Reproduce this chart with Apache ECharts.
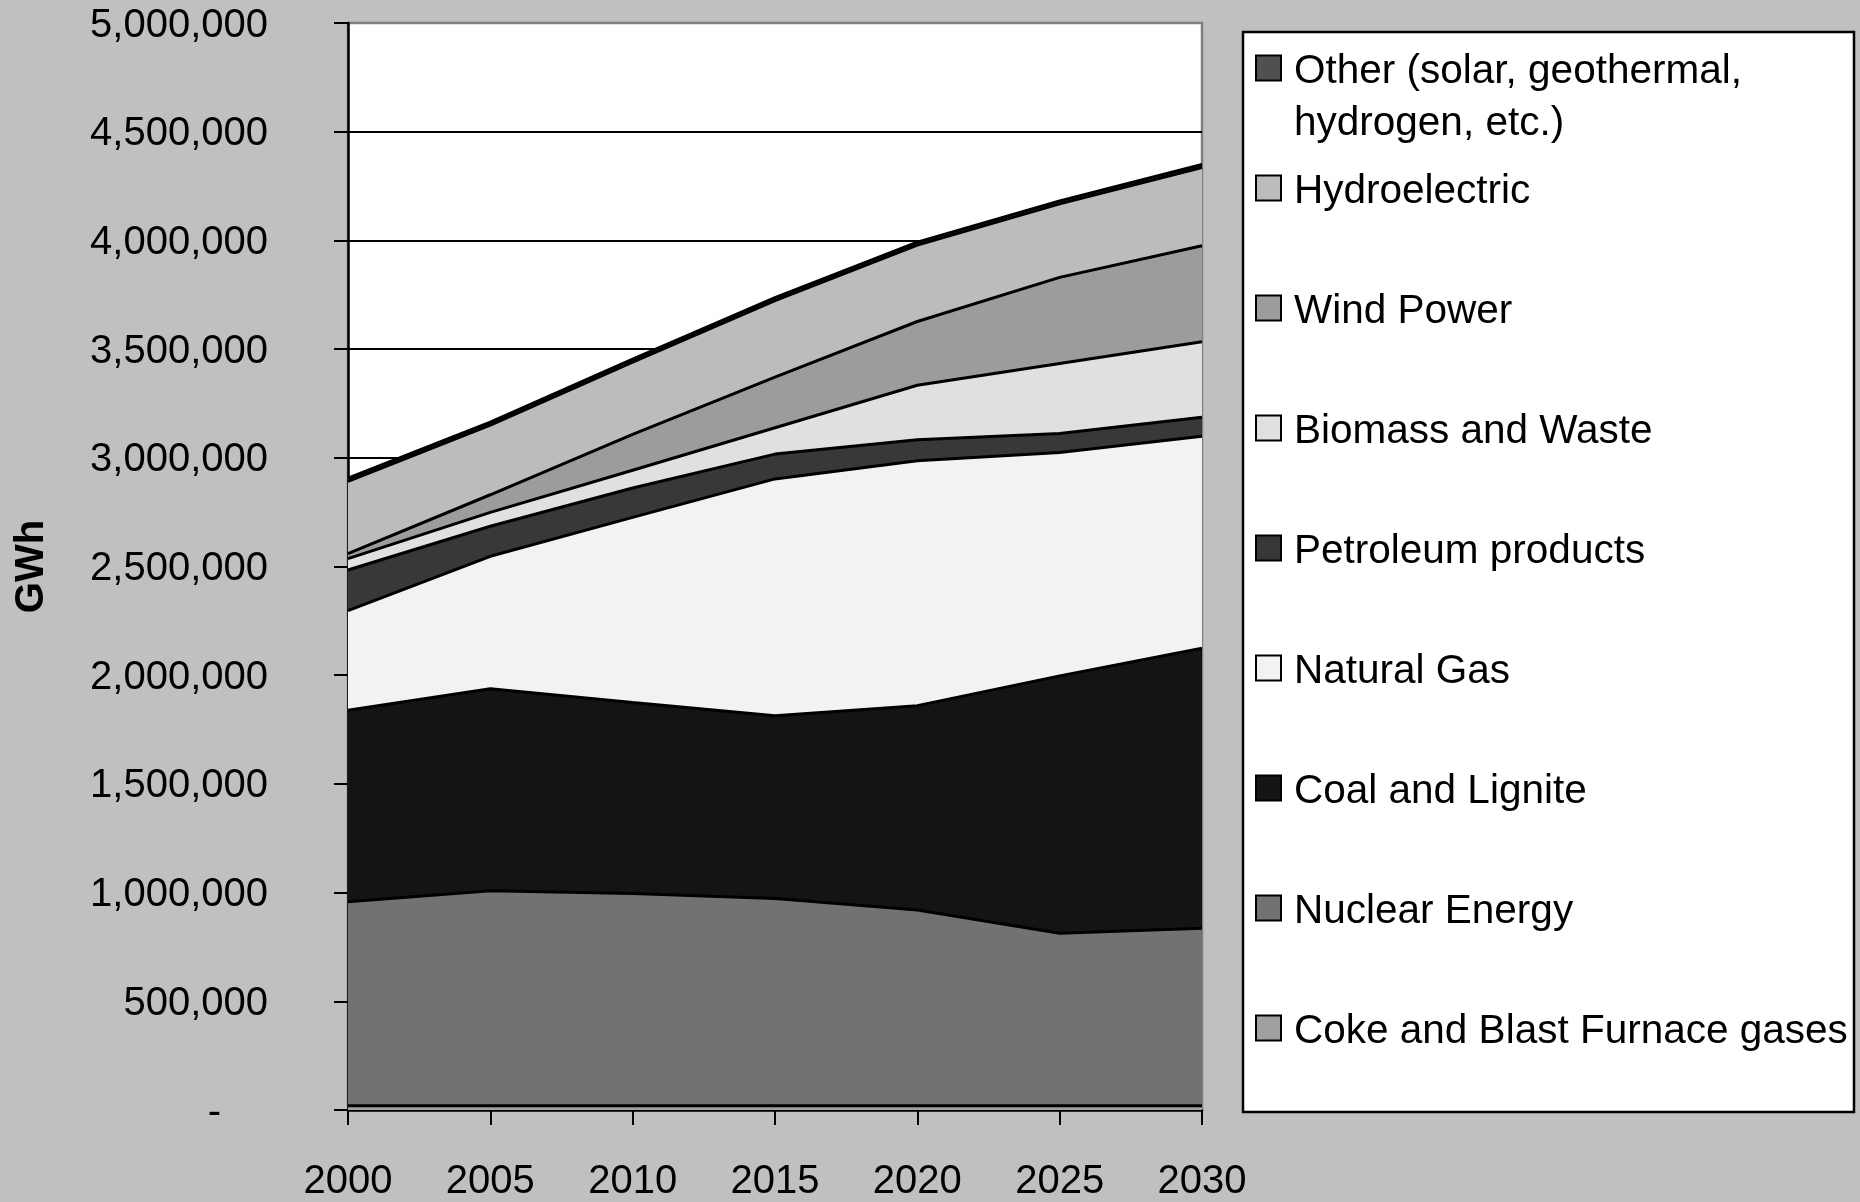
<!DOCTYPE html>
<html>
<head>
<meta charset="utf-8">
<script src="https://cdn.jsdelivr.net/npm/echarts@6/dist/echarts.min.js"></script>
<style>
  html, body { margin: 0; padding: 0; background: #c0c0c0; }
  #chart { width: 1860px; height: 1202px; }
</style>
</head>
<body>
<div id="chart"></div>
<script>
// ---- Data (GWh) ----
const years = ['2000', '2005', '2010', '2015', '2020', '2025', '2030'];

const seriesNames = [
  'Other (solar, geothermal, hydrogen, etc.)',
  'Hydroelectric',
  'Wind Power',
  'Biomass and Waste',
  'Petroleum products',
  'Natural Gas',
  'Coal and Lignite',
  'Nuclear Energy',
  'Coke and Blast Furnace gases'
];

const otherVals     = [14000, 14000, 14000, 14000, 14000, 14000, 14000];
const hydroVals     = [333000, 320000, 332000, 352000, 351000, 338000, 360000];
const windVals      = [23000, 81000, 165000, 233000, 293000, 396000, 441000];
const biomassVals   = [52000, 64000, 82000, 121000, 251000, 322000, 348000];
const petroleumVals = [187000, 138000, 135000, 114000, 97000, 88000, 87000];
const gasVals       = [458000, 609000, 852000, 1089000, 1126000, 1027000, 975000];
const coalVals      = [881000, 930000, 878000, 841000, 940000, 1184000, 1288000];
const nuclearVals   = [938000, 988000, 976000, 953000, 900000, 793000, 816000];
const cokeVals      = [20000, 20000, 20000, 20000, 20000, 20000, 20000];

const yMin = 0, yMax = 5000000, yStep = 500000;

// ---- Styling ----
const FONT = '"Liberation Sans", Arial, Helvetica, sans-serif';
const fills = ['#505050', '#bcbcbc', '#9c9c9c', '#e0e0e0', '#383838', '#f2f2f2', '#141414', '#727272', '#a0a0a0'];
const valueLists = [otherVals, hydroVals, windVals, biomassVals, petroleumVals, gasVals, coalVals, nuclearVals, cokeVals];

function fmt(v) {
  if (v === 0) return '{z|-}';
  return '{n|' + String(v).replace(/\B(?=(\d{3})+(?!\d))/g, ',') + '}';
}

const series = seriesNames.map((name, i) => ({
  name: name,
  type: 'line',
  stack: 'total',
  stackOrder: 'seriesDesc',
  data: valueLists[i],
  symbol: 'none',
  showSymbol: false,
  lineStyle: { color: '#000', width: 3 },
  itemStyle: { color: fills[i] },
  areaStyle: { color: fills[i], opacity: 1 },
  emphasis: { disabled: true },
  silent: true
}));

const L = 52;
const legendData = seriesNames.map((name, i) => {
  if (i === 0) {
    return { name: name, textStyle: { lineHeight: L, padding: [0, 0, 0, 8], backgroundColor: 'rgba(255,255,255,0)' } };
  }
  return { name: name, textStyle: { lineHeight: L, padding: [L, 0, L, 8], backgroundColor: 'rgba(255,255,255,0)' } };
});

const splitColors = [];
for (let v = yMin; v <= yMax; v += yStep) splitColors.push(v === yMax ? '#808080' : '#000');

const chart = echarts.init(document.getElementById('chart'), null, { renderer: 'canvas' });
chart.setOption({
  backgroundColor: '#c0c0c0',
  animation: false,
  textStyle: { fontFamily: FONT },
  graphic: [{
    type: 'rect',
    z: -1,
    silent: true,
    shape: { x: 1243, y: 32, width: 611, height: 1080 },
    style: { fill: '#ffffff', stroke: '#000000', lineWidth: 2.5 }
  }],
  grid: {
    left: 348, top: 23, width: 854, height: 1091,
    show: true, backgroundColor: '#ffffff', borderColor: '#808080', borderWidth: 2.5,
    containLabel: false
  },
  legend: {
    orient: 'vertical',
    left: 1255,
    top: -10,
    padding: 0,
    itemGap: -36,
    itemWidth: 25,
    itemHeight: 25,
    icon: 'rect',
    selectedMode: false,
    itemStyle: { borderColor: '#000', borderWidth: 2 },
    textStyle: {
      fontSize: 40.5, color: '#000', fontFamily: FONT,
      rich: { t: { fontSize: 40.5, color: '#000', fontFamily: FONT, padding: [7, 0, 0, 0] } }
    },
    formatter: function (name) {
      return name === seriesNames[0]
        ? '\n{t|Other (solar, geothermal,}\n{t|hydrogen, etc.)}'
        : '{t|' + name + '}';
    },
    data: legendData
  },
  xAxis: {
    type: 'category',
    data: years,
    boundaryGap: false,
    axisLine: { show: true, lineStyle: { color: '#000', width: 2.5 } },
    axisTick: { show: true, length: 15, alignWithLabel: true, lineStyle: { color: '#000', width: 2 } },
    axisLabel: { fontSize: 40, color: '#000', fontFamily: FONT, margin: 52, interval: 0 },
    splitLine: { show: false }
  },
  yAxis: {
    type: 'value',
    min: yMin, max: yMax, interval: yStep,
    name: 'GWh',
    nameLocation: 'middle',
    nameRotate: 90,
    nameGap: 296,
    nameTextStyle: { fontSize: 40, fontWeight: 'bold', color: '#000', fontFamily: FONT },
    axisLine: { show: true, lineStyle: { color: '#000', width: 2.5 } },
    axisTick: { show: true, length: 14, lineStyle: { color: '#000', width: 2 } },
    axisLabel: {
      fontSize: 40, color: '#000', fontFamily: FONT, margin: 80,
      formatter: fmt,
      rich: {
        n: { fontSize: 40, color: '#000', fontFamily: FONT, padding: [5, 0, 0, 0] },
        z: { fontSize: 40, color: '#000', fontFamily: FONT, padding: [5, 47, 0, 0] }
      }
    },
    splitLine: { show: true, lineStyle: { color: splitColors, width: 2 } }
  },
  series: series
});
</script>
</body>
</html>
